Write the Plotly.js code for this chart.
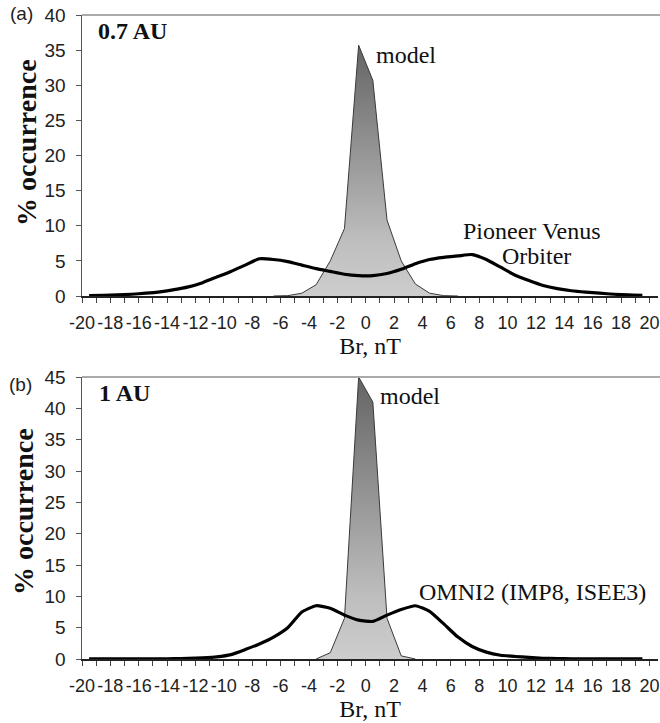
<!DOCTYPE html>
<html>
<head>
<meta charset="utf-8">
<script src="https://cdn.plot.ly/plotly-3.0.1.min.js"></script>
<style>html,body{margin:0;padding:0;background:#fff;}#chart{width:660px;height:723px;}</style>
</head>
<body>
<div id="chart"></div>
<script>
// Bin centres (Br, nT) for the observed distributions
const brCenters = [-19.5,-18.5,-17.5,-16.5,-15.5,-14.5,-13.5,-12.5,-11.5,-10.5,
  -9.5,-8.5,-7.5,-6.5,-5.5,-4.5,-3.5,-2.5,-1.5,-0.5,
  0.5,1.5,2.5,3.5,4.5,5.5,6.5,7.5,8.5,9.5,
  10.5,11.5,12.5,13.5,14.5,15.5,16.5,17.5,18.5,19.5];

// (a) 0.7 AU - Pioneer Venus Orbiter (% occurrence)
const pvoValues = [0.05,0.1,0.15,0.25,0.4,0.6,0.9,1.3,1.9,2.7,
  3.5,4.4,5.3,5.2,4.9,4.4,3.9,3.5,3.1,2.9,
  2.9,3.2,3.8,4.6,5.2,5.5,5.7,5.9,5.2,4.1,
  3.0,2.2,1.5,1.05,0.75,0.55,0.4,0.25,0.15,0.1];

// (a) 0.7 AU - model
const modelTopX = [-6.5,-5.5,-4.5,-3.5,-2.5,-1.5,-0.5,0.5,1.5,2.5,3.5,4.5,5.5,6.5];
const modelTopY = [0,0.05,0.4,1.6,5.0,9.6,35.7,30.7,10.8,5.0,1.7,0.4,0.05,0];

// (b) 1 AU - OMNI2 (IMP8, ISEE3)
const omniValues = [0.02,0.02,0.02,0.03,0.03,0.04,0.05,0.1,0.2,0.35,
  0.7,1.5,2.4,3.5,5.0,7.5,8.5,8.1,7.0,6.2,
  6.0,7.0,7.9,8.5,7.6,5.6,3.5,2.0,1.1,0.6,
  0.4,0.25,0.12,0.06,0.04,0.03,0.03,0.02,0.02,0.02];

// (b) 1 AU - model
const modelBotX = [-3.5,-2.5,-1.5,-0.5,0.5,1.5,2.5,3.5];
const modelBotY = [0,1.0,6.5,45,41,6.5,0.5,0];

// Tick labels (x axis, every 2 nT; minor ticks every 1 nT)
const xTickVals = [-20,-18,-16,-14,-12,-10,-8,-6,-4,-2,0,2,4,6,8,10,12,14,16,18,20];
const xTickText = ['-20','-18','-16','-14','-12','-10','-8','-6','-4','-2','0','2','4','6','8','10','12','14','16','18','20'];
const xMinorVals = [-19,-17,-15,-13,-11,-9,-7,-5,-3,-1,1,3,5,7,9,11,13,15,17,19];

// Axis ranges
const xRange = [-20, 20.6];
const yRangeTop = [0, 40];
const yRangeBot = [0, 45];

const serif = 'Liberation Serif, Times New Roman, serif';
const sans = 'Liberation Sans, Arial, sans-serif';

const W = 660, H = 723, ML = 82, MR = 2, MT = 15, MB = 64;
const PW = W - ML - MR, PH = H - MT - MB;
const px = v => (v - ML) / PW;
const py = v => (H - MB - v) / PH;

const grad = {type: 'vertical', colorscale: [[0, '#cdcdcd'], [0.22, '#bebebe'], [1, '#646464']]};

const traces = [
  {x: modelTopX, y: modelTopY, type: 'scatter', mode: 'lines', fill: 'tozeroy',
   fillgradient: grad, line: {color: '#3a3a3a', width: 1}, xaxis: 'x', yaxis: 'y', hoverinfo: 'skip'},
  {x: brCenters, y: pvoValues, type: 'scatter', mode: 'lines',
   line: {color: '#000', width: 3.2, shape: 'spline', smoothing: 0.5}, xaxis: 'x', yaxis: 'y'},
  {x: modelBotX, y: modelBotY, type: 'scatter', mode: 'lines', fill: 'tozeroy',
   fillgradient: grad, line: {color: '#3a3a3a', width: 1}, xaxis: 'x2', yaxis: 'y2', hoverinfo: 'skip'},
  {x: brCenters, y: omniValues, type: 'scatter', mode: 'lines',
   line: {color: '#000', width: 3.2, shape: 'spline', smoothing: 0.5}, xaxis: 'x2', yaxis: 'y2'}
];

function xAxis(anchor) {
  return {
    domain: [0, 1], range: xRange, anchor: anchor, tickmode: 'array', tickvals: xTickVals, ticktext: xTickText,
    tickangle: 0, automargin: false, ticklabeloverflow: 'allow',
    showline: true, linecolor: '#222', linewidth: 1.5, ticks: 'outside', ticklen: 5, tickcolor: '#444',
    tickwidth: 1, tickfont: {family: sans, size: 18, color: '#222'}, ticklabelstandoff: 5,
    minor: {tickmode: 'array', tickvals: xMinorVals, ticks: 'outside', ticklen: 5, tickcolor: '#444', showgrid: false},
    showgrid: false, zeroline: false,
    title: {text: 'Br, nT', font: {family: serif, size: 24, color: '#111'}, standoff: 3}
  };
}
function yAxis(domain, range, anchor) {
  return {
    domain: domain, range: range, anchor: anchor, tickmode: 'linear', tick0: 0, dtick: 5,
    automargin: false,
    showline: true, linecolor: '#555', linewidth: 1.5, ticks: 'outside', ticklen: 5, tickcolor: '#555',
    tickfont: {family: sans, size: 19, color: '#222'}, ticklabelstandoff: 6,
    showgrid: false, zeroline: false
  };
}

function note(text, x, y, font, extra) {
  return Object.assign({text: text, xref: 'paper', yref: 'paper', x: px(x), y: py(y),
    xanchor: 'center', yanchor: 'middle', showarrow: false, font: font}, extra || {});
}
const labelFont = {family: serif, size: 24, color: '#111'};
const boldFont = {family: serif, size: 24, color: '#111', weight: 'bold'};
const yTitleFont = {family: serif, size: 28, color: '#111', weight: 'bold'};
const panelFont = {family: sans, size: 19, color: '#222'};

const layout = {
  width: W, height: H, margin: {l: ML, r: MR, t: MT, b: MB},
  paper_bgcolor: '#fff', plot_bgcolor: '#fff', showlegend: false,
  xaxis: xAxis('y'),
  yaxis: yAxis([py(296), 1], yRangeTop, 'x'),
  xaxis2: xAxis('y2'),
  yaxis2: yAxis([0, py(377)], yRangeBot, 'x2'),
  shapes: [
    {type: 'line', xref: 'paper', yref: 'y domain', x0: 0, x1: px(660), y0: 1, y1: 1, line: {color: '#aaa', width: 2}},
    {type: 'line', xref: 'paper', yref: 'y2 domain', x0: 0, x1: px(660), y0: 1, y1: 1, line: {color: '#aaa', width: 2}}
  ],
  annotations: [
    note('(a)', 21, 13, panelFont),
    note('(b)', 20, 385, panelFont),
    note('% occurrence', 26, 143, yTitleFont, {textangle: -90}),
    note('% occurrence', 23, 512, yTitleFont, {textangle: -90}),
    note('0.7 AU', 132, 31, boldFont),
    note('1 AU', 124, 393, boldFont),
    note('model', 406, 55, labelFont),
    note('model', 410, 396, labelFont),
    note('Pioneer Venus', 532, 231, labelFont),
    note('Orbiter', 536, 256, labelFont),
    note('OMNI2 (IMP8, ISEE3)', 532, 592, labelFont)
  ]
};

Plotly.newPlot('chart', traces, layout, {staticPlot: true, displayModeBar: false});
</script>
</body>
</html>
